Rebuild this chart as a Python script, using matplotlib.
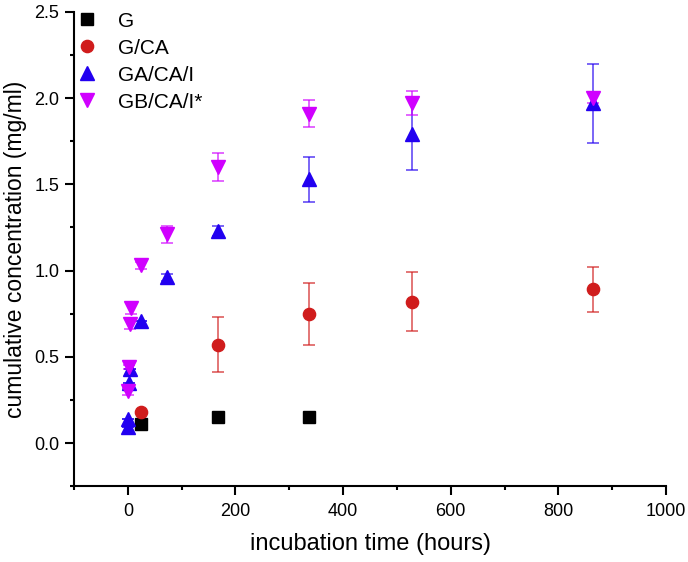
import numpy as np
import matplotlib.pyplot as plt
from matplotlib.lines import Line2D

plt.rcParams['font.family'] = ['Liberation Sans', 'DejaVu Sans']

# G
g_x = [24, 168, 336]
g_y = [0.11, 0.15, 0.15]

# G/CA
gca_x = [24, 168, 336, 528, 864]
gca_y = [0.18, 0.57, 0.75, 0.82, 0.89]
gca_err = [0.0, 0.16, 0.18, 0.17, 0.13]

# GA/CA/I
gaci_x = [0, 0, 2, 4, 24, 72, 168, 336, 528, 864]
gaci_y = [0.09, 0.14, 0.35, 0.43, 0.71, 0.96, 1.23, 1.53, 1.79, 1.97]
gaci_err = [0.0, 0.0, 0.0, 0.0, 0.0, 0.02, 0.03, 0.13, 0.21, 0.23]

# GB/CA/I*
gbci_x = [0, 2, 4, 6, 24, 72, 168, 336, 528, 864]
gbci_y = [0.30, 0.44, 0.69, 0.78, 1.03, 1.21, 1.60, 1.91, 1.97, 2.00]
gbci_err = [0.02, 0.01, 0.03, 0.03, 0.02, 0.05, 0.08, 0.08, 0.07, 0.03]

c_red = '#d01c1c'
c_blue = '#2200f0'
c_mag = '#d000ff'

fig = plt.figure(figsize=(6.88, 5.62), dpi=100)
ax = fig.add_axes([0.1076, 0.135, 0.8604, 0.844])

ax.plot(g_x, g_y, 's', color='black', markersize=8)
e1 = ax.errorbar(gca_x, gca_y, yerr=gca_err, fmt='o', color=c_red, markersize=8.8,
                 elinewidth=1.2, capsize=4.5, capthick=1.2)
e2 = ax.errorbar(gaci_x, gaci_y, yerr=gaci_err, fmt='^', color=c_blue, markersize=10,
                 elinewidth=1.2, capsize=4.5, capthick=1.2)
e3 = ax.errorbar(gbci_x, gbci_y, yerr=gbci_err, fmt='v', color=c_mag, markersize=10,
                 elinewidth=1.2, capsize=4.5, capthick=1.2)
for e in (e1, e2, e3):
    for b in e[2]:
        b.set_alpha(0.7)
    for c in e[1]:
        c.set_alpha(0.7)

ax.set_xlim(-100, 1000)
ax.set_ylim(-0.25, 2.5)
ax.set_xticks(np.arange(0, 1001, 200))
ax.set_xticks(np.arange(-100, 1001, 100), minor=True)
ax.set_yticks(np.arange(0, 2.51, 0.5))
ax.set_yticks(np.arange(-0.25, 2.51, 0.25), minor=True)
ax.yaxis.set_major_formatter(plt.FormatStrFormatter('%.1f'))

for s in ['top', 'right']:
    ax.spines[s].set_visible(False)
for s in ['left', 'bottom']:
    ax.spines[s].set_linewidth(1.5)
ax.tick_params(which='major', direction='out', length=6.5, width=1.5, labelsize=13)
ax.tick_params(axis='x', which='major', pad=6)
ax.tick_params(axis='y', which='major', pad=4)
ax.tick_params(which='minor', direction='out', length=3, width=1.5)

ax.set_xlabel('incubation time (hours)', fontsize=17, labelpad=9)
ax.set_ylabel('cumulative concentration (mg/ml)', fontsize=16.5, labelpad=5)

handles = [
    Line2D([], [], marker='s', color='black', linestyle='none', markersize=8),
    Line2D([], [], marker='o', color=c_red, linestyle='none', markersize=8.8),
    Line2D([], [], marker='^', color=c_blue, linestyle='none', markersize=10),
    Line2D([], [], marker='v', color=c_mag, linestyle='none', markersize=10),
]
ax.legend(handles, ['G', 'G/CA', 'GA/CA/I', 'GB/CA/I*'], loc='upper left',
          frameon=False, fontsize=15, handletextpad=1.0, borderaxespad=0.1,
          labelspacing=0.38, handlelength=1.0, bbox_to_anchor=(-0.014, 1.022))

fig.savefig('out.png', dpi=100)
